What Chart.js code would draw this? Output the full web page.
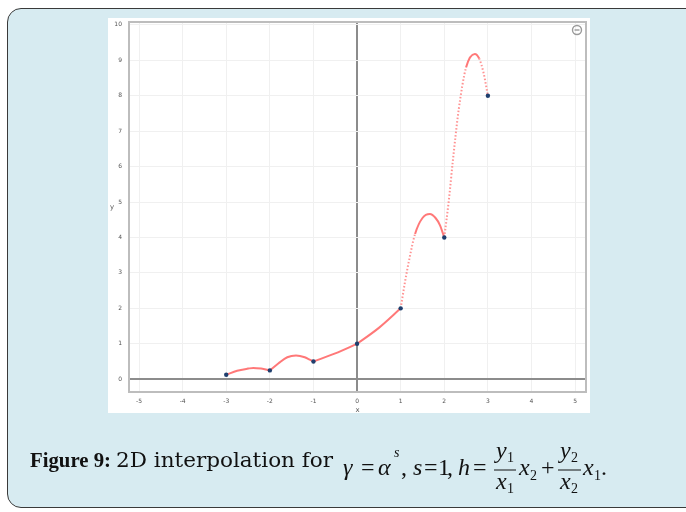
<!DOCTYPE html>
<html>
<head>
<meta charset="utf-8">
<script src="https://cdn.jsdelivr.net/npm/chart.js@4.4.1/dist/chart.umd.min.js"></script>
<style>
  html, body { margin: 0; padding: 0; background: #ffffff; width: 686px; height: 512px; overflow: hidden; }
  .card { position: absolute; left: 7px; top: 8px; width: 700px; height: 500px; background: #d7ebf1;
          border: 1.5px solid #3a3a3a; border-radius: 14px; box-sizing: border-box; }
  .plot { position: absolute; left: 108px; top: 18px; width: 482px; height: 395px; background: #ffffff; }
  .caption { position: absolute; left: 0; top: 0; }
  .caption text { fill: #111; }
  .m { font-family: "Liberation Serif", "Times New Roman", serif; font-style: italic; font-size: 24px; }
  .r { font-family: "Liberation Serif", "Times New Roman", serif; font-size: 24px; }
  .s { font-family: "Liberation Serif", "Times New Roman", serif; font-size: 14px; }
</style>
</head>
<body>
<div class="card"></div>
<div class="plot"><canvas id="chart" width="482" height="395"></canvas></div>
<svg class="caption" width="686" height="512">
  <text x="30" y="467" font-family="Liberation Serif" font-size="22" font-weight="bold" textLength="81" lengthAdjust="spacingAndGlyphs">Figure 9:</text>
  <text x="116" y="467" font-family="DejaVu Serif" font-size="19.5" textLength="217" lengthAdjust="spacingAndGlyphs">2D interpolation for</text>
  <text class="m" x="343" y="475">γ</text>
  <text class="r" x="361" y="475">=</text>
  <text class="m" x="378" y="475">α</text>
  <text class="s" x="394" y="457" font-style="italic" font-size="12">s</text>
  <text class="r" x="401" y="475">,</text>
  <text class="m" x="413" y="475">s</text>
  <text class="r" x="424" y="475">=</text>
  <text class="r" x="438" y="475">1</text>
  <text class="r" x="447" y="475">,</text>
  <text class="m" x="458" y="475">h</text>
  <text class="r" x="473" y="475">=</text>
  <text class="m" x="496" y="458">y</text>
  <text class="s" x="507" y="462">1</text>
  <line x1="494" y1="470" x2="516" y2="470" stroke="#111" stroke-width="1"></line>
  <text class="m" x="496" y="489">x</text>
  <text class="s" x="507" y="493">1</text>
  <text class="m" x="519" y="475">x</text>
  <text class="s" x="530" y="480">2</text>
  <text class="r" x="541" y="475">+</text>
  <text class="m" x="560" y="458">y</text>
  <text class="s" x="571" y="462">2</text>
  <line x1="558" y1="470" x2="581" y2="470" stroke="#111" stroke-width="1"></line>
  <text class="m" x="560" y="489">x</text>
  <text class="s" x="571" y="493">2</text>
  <text class="m" x="583" y="475">x</text>
  <text class="s" x="594" y="480">1</text>
  <text class="r" x="601" y="475">.</text>
</svg>
<script>
// tick values on both axes
const xTicks = [-5, -4, -3, -2, -1, 0, 1, 2, 3, 4, 5]
const yTicks = [0, 1, 2, 3, 4, 5, 6, 7, 8, 9, 10]

// the knots (dark dots)
const knotX = [-3, -2, -1, 0, 1, 2, 3]
const knotY = [0.125, 0.25, 0.5, 1, 2, 4, 8]

// the red interpolation curve
const curveX = [-3, -2.75, -2.5, -2.38, -2.2, -2,
  -1.8, -1.6, -1.4, -1.2, -1.1, -1,
  -0.5, 0, 0.5, 1,
  1.1, 1.2, 1.33, 1.5, 1.67, 1.8, 1.9, 2,
  2.1, 2.2, 2.33, 2.5, 2.7, 2.8, 2.9, 3]
const curveY = [0.125, 0.24, 0.3, 0.32, 0.3, 0.25,
  0.45, 0.62, 0.67, 0.62, 0.56, 0.5,
  0.73, 1, 1.45, 2,
  2.75, 3.4, 4.1, 4.55, 4.66, 4.55, 4.35, 4,
  5.0, 6.2, 7.6, 8.8, 9.18, 9.05, 8.65, 8]

const tickFont = { family: 'DejaVu Sans', size: 6 }

// frame round the plot, axis letters and the little zoom button
const framePlugin = {
  id: 'frame',
  afterDraw(chart) {
    const { ctx, chartArea: a } = chart
    ctx.save()
    ctx.strokeStyle = '#bdbdbd'
    ctx.lineWidth = 2
    ctx.strokeRect(a.left, a.top, a.right - a.left, a.bottom - a.top)

    ctx.fillStyle = '#555'
    ctx.font = '7px "DejaVu Sans"'
    ctx.textAlign = 'center'
    ctx.textBaseline = 'middle'
    ctx.fillText('y', 4, (a.top + a.bottom) / 2)
    ctx.fillText('x', (a.left + a.right) / 2, a.bottom + 18)

    // zoom icon
    ctx.strokeStyle = '#9a9a9a'
    ctx.lineWidth = 1.4
    ctx.beginPath()
    ctx.arc(a.right - 9, a.top + 8, 4.5, 0, Math.PI * 2)
    ctx.stroke()
    ctx.beginPath()
    ctx.moveTo(a.right - 11.5, a.top + 8)
    ctx.lineTo(a.right - 6.5, a.top + 8)
    ctx.stroke()
    ctx.restore()
  }
}

const zeroGrid = (c) => (c.tick && c.tick.value === 0 ? '#8c8c8c' : '#f0f0f0')
const zeroWidth = (c) => (c.tick && c.tick.value === 0 ? 2 : 1)

const steep = (c) => Math.abs(c.p1.y - c.p0.y) / (c.p1.x - c.p0.x) > 3

// one piece of curve for each gap between knots
const pieces = []
for (let k = 0; k < knotX.length - 1; k++) {
  const pts = []
  curveX.forEach((x, i) => {
    if (x >= knotX[k] && x <= knotX[k + 1]) pts.push({ x: x, y: curveY[i] })
  })
  pieces.push({
    type: 'line',
    data: pts,
    borderColor: 'rgba(255, 105, 105, 0.9)',
    borderWidth: 2,
    pointRadius: 0,
    cubicInterpolationMode: 'monotone',
    fill: false,
    order: 1,
    segment: {
      borderDash: (c) => (steep(c) ? [1.5, 2] : undefined),
      borderColor: (c) => (steep(c) ? 'rgba(255, 110, 110, 0.75)' : undefined)
    }
  })
}

new Chart(document.getElementById('chart'), {
  type: 'scatter',
  data: {
    datasets: [
      {
        type: 'scatter',
        data: knotX.map((x, i) => ({ x: x, y: knotY[i] })),
        pointRadius: 2.2,
        pointBackgroundColor: '#1f3f6e',
        pointBorderWidth: 0,
        order: 0
      }
    ].concat(pieces)
  },
  options: {
    responsive: false,
    animation: false,
    layout: { padding: { top: 1, right: 1, left: 0, bottom: 0 } },
    plugins: { legend: { display: false }, tooltip: { enabled: false } },
    scales: {
      x: {
        type: 'linear',
        min: -5.23,
        max: 5.25,
        afterBuildTicks: (s) => { s.ticks = xTicks.map((v) => ({ value: v })) },
        afterFit: (s) => { s.height = 21; s.paddingLeft = 0; s.paddingRight = 0 },
        ticks: { font: tickFont, color: '#555', padding: 6, callback: (v) => String(v) },
        grid: { color: zeroGrid, lineWidth: zeroWidth, drawTicks: false },
        border: { display: false }
      },
      y: {
        type: 'linear',
        min: -0.36,
        max: 10.08,
        afterBuildTicks: (s) => { s.ticks = yTicks.map((v) => ({ value: v })) },
        afterFit: (s) => { s.width = 21; s.paddingTop = 0; s.paddingBottom = 0 },
        ticks: { font: tickFont, color: '#555', padding: 7, callback: (v) => String(v) },
        grid: { color: zeroGrid, lineWidth: zeroWidth, drawTicks: false },
        border: { display: false }
      }
    }
  },
  plugins: [framePlugin]
})
</script>
</body>
</html>
